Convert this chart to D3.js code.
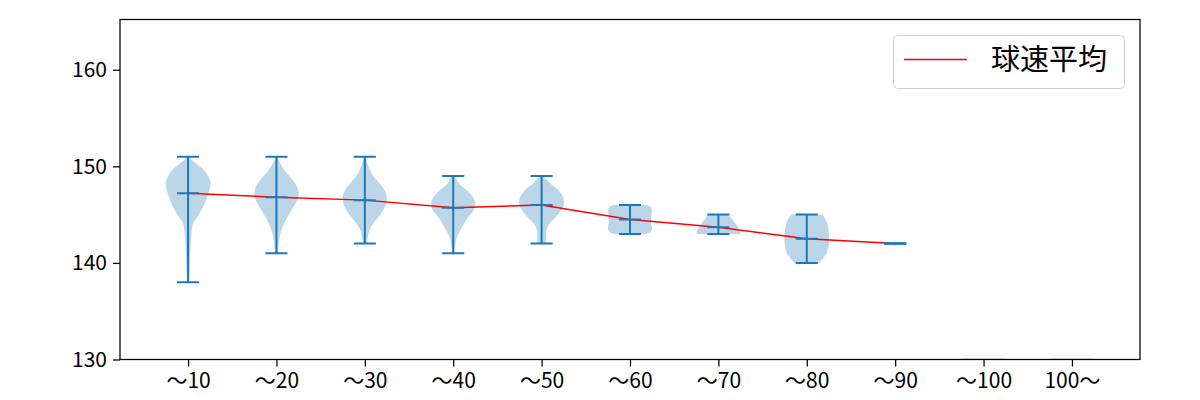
<!DOCTYPE html>
<html><head><meta charset="utf-8">
<script src="https://cdn.jsdelivr.net/npm/d3@7"></script>
<style>body{margin:0;background:#fff}svg{display:block}</style>
</head><body>
<svg id="chart" width="1200" height="400"></svg>
<script>
const categories = ["～10","～20","～30","～40","～50","～60","～70","～80","～90","～100","100～"];
const maxValues  = [151, 151, 151, 149, 149, 146, 145, 145, 142, null, null];
const minValues  = [138, 141, 142, 141, 142, 143, 143, 140, 142, null, null];
const meanValues = [147.2, 146.8, 146.5, 145.7, 146.0, 144.5, 143.7, 142.5, 142.0, null, null];
// density profile: sample values and relative half-widths (1 = widest)
const profileValues = [
  [151, 150.6, 150.3, 149.6, 148.5, 147.85, 146.8, 145.8, 144.75, 144.1, 143.4, 142, 140.6, 139.2, 138],
  [151, 150.3, 149.6, 148.9, 148.2, 147.35, 146.65, 145.8, 144.75, 143.7, 142.7, 141.65, 141],
  [151, 150.3, 149.6, 148.9, 148.2, 147.35, 146.65, 145.96, 145.1, 144.2, 143.4, 142.5, 142],
  [149, 148.9, 148.2, 147.5, 146.8, 146.1, 145.4, 144.75, 143.7, 142.7, 141.65, 141],
  [149, 148.9, 148.2, 147.5, 146.65, 145.95, 145.1, 144.2, 143.55, 142.85, 142],
  [146, 145.8, 145.5, 145, 144.5, 144, 143.5, 143.2, 143],
  [145, 144.5, 144, 143.5, 143],
  [145, 144.5, 144, 143, 142, 141, 140.5, 140],
  [],
  [130.12, 129],
  [130.12, 129]
];
const profileWidths = [
  [0.03, 0.2, 0.36, 0.73, 1.0, 1.0, 0.86, 0.68, 0.41, 0.23, 0.17, 0.12, 0.09, 0.07, 0.05],
  [0.02, 0.18, 0.36, 0.62, 0.86, 1.0, 0.96, 0.77, 0.5, 0.27, 0.15, 0.09, 0.05],
  [0.02, 0.12, 0.24, 0.41, 0.68, 0.94, 1.0, 0.94, 0.73, 0.42, 0.21, 0.12, 0.07],
  [0.03, 0.09, 0.27, 0.62, 0.9, 1.0, 0.91, 0.68, 0.4, 0.17, 0.08, 0.05],
  [0.03, 0.1, 0.41, 0.77, 1.0, 1.0, 0.77, 0.41, 0.23, 0.2, 0.2],
  [0.75, 0.93, 1.0, 0.97, 0.95, 0.97, 1.0, 0.93, 0.75],
  [0.45, 0.63, 0.8, 0.93, 1.0],
  [0.7, 0.85, 0.94, 1.0, 1.0, 0.9, 0.75, 0.55],
  [],
  [1, 1],
  [1, 1]
];
const yTicks = [130, 140, 150, 160];
const legendLabel = "球速平均";

const svg = d3.select("#chart");
const mLeft = 120, mRight = 1140, mTop = 19.5, mBottom = 359.5;
const x = d3.scaleLinear().domain([0.23, 11.77]).range([mLeft, mRight]);
const y = d3.scaleLinear().domain([130, 165.2]).range([mBottom, mTop]);
const blue = "#1f77b4";
const bodyHalf = 0.25, capHalf = 0.125;
const font = "'Noto Sans CJK JP', 'Noto Sans', sans-serif";

svg.append("defs").append("clipPath").attr("id", "clip")
  .append("rect").attr("x", mLeft).attr("y", mTop).attr("width", mRight - mLeft).attr("height", mBottom - mTop);

const plot = svg.append("g").attr("clip-path", "url(#clip)");

categories.forEach((c, i) => {
  const pos = i + 1;
  const vals = profileValues[i], ws = profileWidths[i];
  if (vals.length) {
    const pts = vals.map((v, k) => ({v, w: ws[k]}));
    const area = d3.area()
      .y(d => y(d.v))
      .x0(d => x(pos - d.w * bodyHalf))
      .x1(d => x(pos + d.w * bodyHalf))
      .curve(d3.curveCatmullRom);
    plot.append("path").attr("d", area(pts))
      .attr("fill", blue).attr("fill-opacity", 0.3).attr("stroke", "none");
  }
});

// red mean line
const meanPts = meanValues.map((m, i) => ({pos: i + 1, m})).filter(d => d.m != null);
plot.append("path")
  .attr("d", d3.line().x(d => x(d.pos)).y(d => y(d.m))(meanPts))
  .attr("fill", "none").attr("stroke", "#ff0000").attr("stroke-width", 1.5);

// violin lines
categories.forEach((c, i) => {
  const pos = i + 1;
  if (maxValues[i] == null) return;
  const g = plot.append("g").attr("stroke", blue).attr("stroke-width", 2).attr("fill", "none");
  g.append("line").attr("x1", x(pos)).attr("x2", x(pos)).attr("y1", y(maxValues[i])).attr("y2", y(minValues[i]));
  [maxValues[i], minValues[i], meanValues[i]].forEach(v => {
    g.append("line").attr("x1", x(pos - capHalf)).attr("x2", x(pos + capHalf)).attr("y1", y(v)).attr("y2", y(v));
  });
});

// axes
const yAxis = d3.axisLeft(y).tickValues(yTicks).tickSize(7).tickPadding(6);
const gy = svg.append("g").attr("transform", `translate(${mLeft},0)`).call(yAxis);
const xAxis = d3.axisBottom(x).tickValues(d3.range(1, categories.length + 1))
  .tickFormat((d, i) => categories[i]).tickSize(7).tickPadding(7);
const gx = svg.append("g").attr("transform", `translate(0,${mBottom})`).call(xAxis);
[gx, gy].forEach(g => {
  g.select(".domain").remove();
  g.selectAll(".tick line").attr("stroke", "#000").attr("stroke-width", 1.25);
  g.selectAll(".tick text").attr("fill", "#000").style("font-family", font).style("font-size", "21px");
});
svg.append("rect").attr("x", mLeft).attr("y", mTop).attr("width", mRight - mLeft).attr("height", mBottom - mTop)
  .attr("fill", "none").attr("stroke", "#000").attr("stroke-width", 1.25);

// legend
const lg = svg.append("g");
lg.append("rect").attr("x", 893.5).attr("y", 35.5).attr("width", 231).attr("height", 53).attr("rx", 4)
  .attr("fill", "#fff").attr("fill-opacity", 0.8).attr("stroke", "#d0d0d0").attr("stroke-width", 1);
lg.append("line").attr("x1", 904).attr("x2", 967).attr("y1", 59.5).attr("y2", 59.5)
  .attr("stroke", "#ff0000").attr("stroke-width", 1.5);
lg.append("text").attr("x", 991).attr("y", 70).text(legendLabel)
  .style("font-family", font).style("font-size", "29px").attr("fill", "#000");
</script>
</body></html>
